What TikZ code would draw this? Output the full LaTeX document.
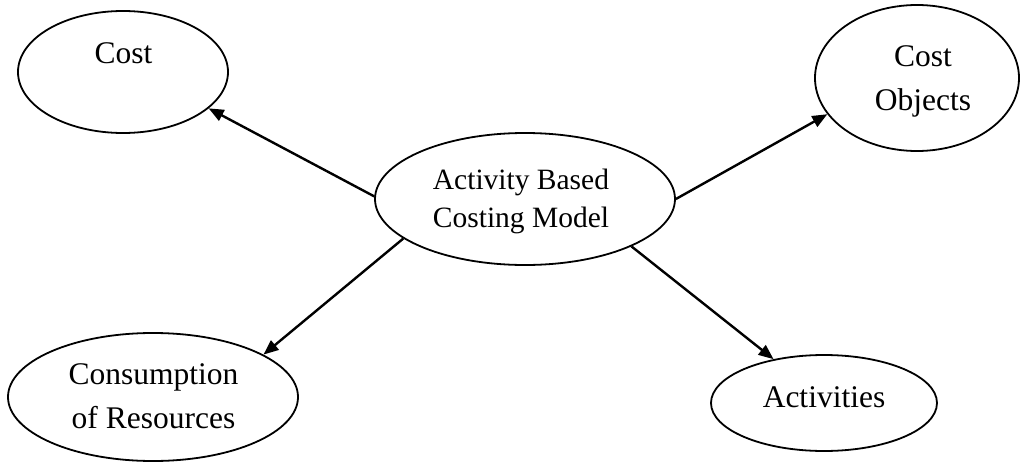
\documentclass[tikz,border=0pt]{standalone}
\usepackage{fontspec}
\setmainfont{Liberation Serif}
\usetikzlibrary{shapes.geometric,arrows.meta}
\begin{document}
\begin{tikzpicture}[x=1pt,y=-1pt,
  oval/.style={draw,ellipse,line width=1.8pt,inner sep=0pt},
  lbl/.style={inner sep=0pt,align=center,font=\fontsize{31.5}{44}\selectfont},
  clbl/.style={inner sep=0pt,align=center,font=\fontsize{29.5}{38}\selectfont},
  arr/.style={line width=2.4pt,-{Triangle[length=15pt,width=12pt]}}]
\useasboundingbox (0,0) rectangle (1021,463);
% ellipses
\node[oval,minimum width=300pt,minimum height=132pt] (abc) at (525,199) {};
\node[oval,minimum width=210pt,minimum height=122pt] (cost) at (123,72) {};
\node[oval,minimum width=204pt,minimum height=146pt] (obj) at (917,78) {};
\node[oval,minimum width=290pt,minimum height=128pt] (cons) at (153,397) {};
\node[oval,minimum width=226pt,minimum height=96pt] (act) at (824,403) {};
% texts
\node[clbl,anchor=north] (tabc) at (521,168.9) {Activity Based\\Costing Model};
\node[lbl,anchor=base] (tcost) at (123.5,63) {Cost};
\node[lbl,anchor=north] (tobj) at (923,45.7) {Cost\\Objects};
\node[lbl,anchor=north] (tcons) at (153.5,363.7) {Consumption\\of Resources};
\node[lbl,anchor=base] (tact) at (824,407) {Activities};
% arrows
\draw[arr] (abc.179) -- (cost.-23.4);
\draw[arr] (abc.0) -- (obj.202.9);
\draw[arr] (abc.198.6) -- (cons.21.8);
\draw[arr] (abc.-24.6) -- (act.139.1);
\end{tikzpicture}
\end{document}
